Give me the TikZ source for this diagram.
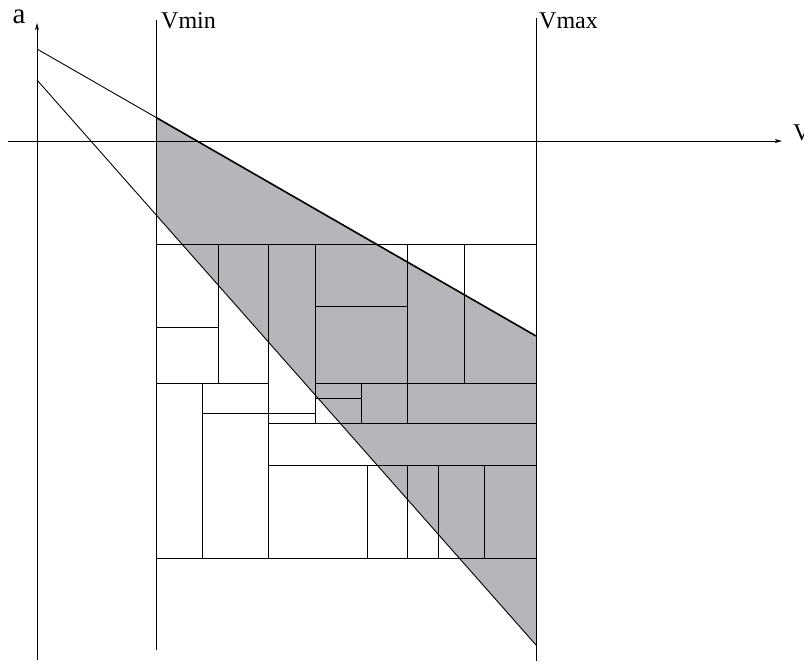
\documentclass[tikz,border=0pt]{standalone}
\usepackage{fontspec}
\setmainfont{Liberation Serif}
\usetikzlibrary{arrows.meta}
\definecolor{regiongray}{RGB}{181,182,185}
\begin{document}
\begin{tikzpicture}[x=1pt,y=-1pt,
  axisline/.style={line width=0.9pt,-{Stealth[length=7pt,width=4pt,inset=2pt]}},
  guide/.style={line width=1pt},
  cell/.style={line width=1pt},
  ray/.style={line width=0.9pt},
  boldray/.style={line width=1.6pt},
  lbl/.style={inner sep=0pt,font=\fontsize{24}{24}\selectfont},
  biglbl/.style={inner sep=0pt,font=\fontsize{29}{29}\selectfont}]
\useasboundingbox (0,0) rectangle (804,662);
% named coordinates
\coordinate (hstart) at (8,141);
\coordinate (hend) at (782,141);
\coordinate (vstart) at (37,660);
\coordinate (vend) at (37,23);
\coordinate (vmintop) at (156,20);
\coordinate (vminbot) at (156,650);
\coordinate (vmaxtop) at (536,18);
\coordinate (vmaxbot) at (536,661);
\coordinate (upA) at (37,49);
\coordinate (upB) at (156,117.4);
\coordinate (upC) at (536,336);
\coordinate (loA) at (37,80);
\coordinate (loB) at (156,214.7);
\coordinate (loC) at (536,645);
% shaded region
\fill[regiongray] (upB) -- (upC) -- (loC) -- (loB) -- cycle;
% grid of cells
\draw[cell] (156,244) -- (536,244);
\draw[cell] (156,558) -- (536,558);
\draw[cell] (156,383) -- (268,383);
\draw[cell] (315,383) -- (536,383);
\draw[cell] (156,327) -- (218,327);
\draw[cell] (315,306) -- (407,306);
\draw[cell] (315,398) -- (361,398);
\draw[cell] (202,413.5) -- (315,413.5);
\draw[cell] (268,423.5) -- (536,423.5);
\draw[cell] (268,465) -- (536,465);
\draw[cell] (218,244) -- (218,383);
\draw[cell] (268,244) -- (268,558);
\draw[cell] (315,244) -- (315,423.5);
\draw[cell] (407,244) -- (407,423.5);
\draw[cell] (464,244) -- (464,383);
\draw[cell] (361,383) -- (361,423.5);
\draw[cell] (202,383) -- (202,558);
\draw[cell] (367,465) -- (367,558);
\draw[cell] (407,465) -- (407,558);
\draw[cell] (438,465) -- (438,558);
\draw[cell] (484,465) -- (484,558);
% axes and guides
\draw[axisline] (hstart) -- (hend);
\draw[axisline] (vstart) -- (vend);
\draw[guide] (vmintop) -- (vminbot);
\draw[guide] (vmaxtop) -- (vmaxbot);
% rays
\draw[ray] (upA) -- (upB);
\draw[boldray] (upB) -- (upC);
\draw[ray] (loA) -- (loC);
% labels
\node[biglbl,anchor=base] (alabel) at (19,23) {a};
\node[lbl,anchor=base west] (vminlabel) at (161,28) {Vmin};
\node[lbl,anchor=base west] (vmaxlabel) at (539,28) {Vmax};
\node[lbl,anchor=base west] (vlabel) at (793,140) {V};
\end{tikzpicture}
\end{document}
